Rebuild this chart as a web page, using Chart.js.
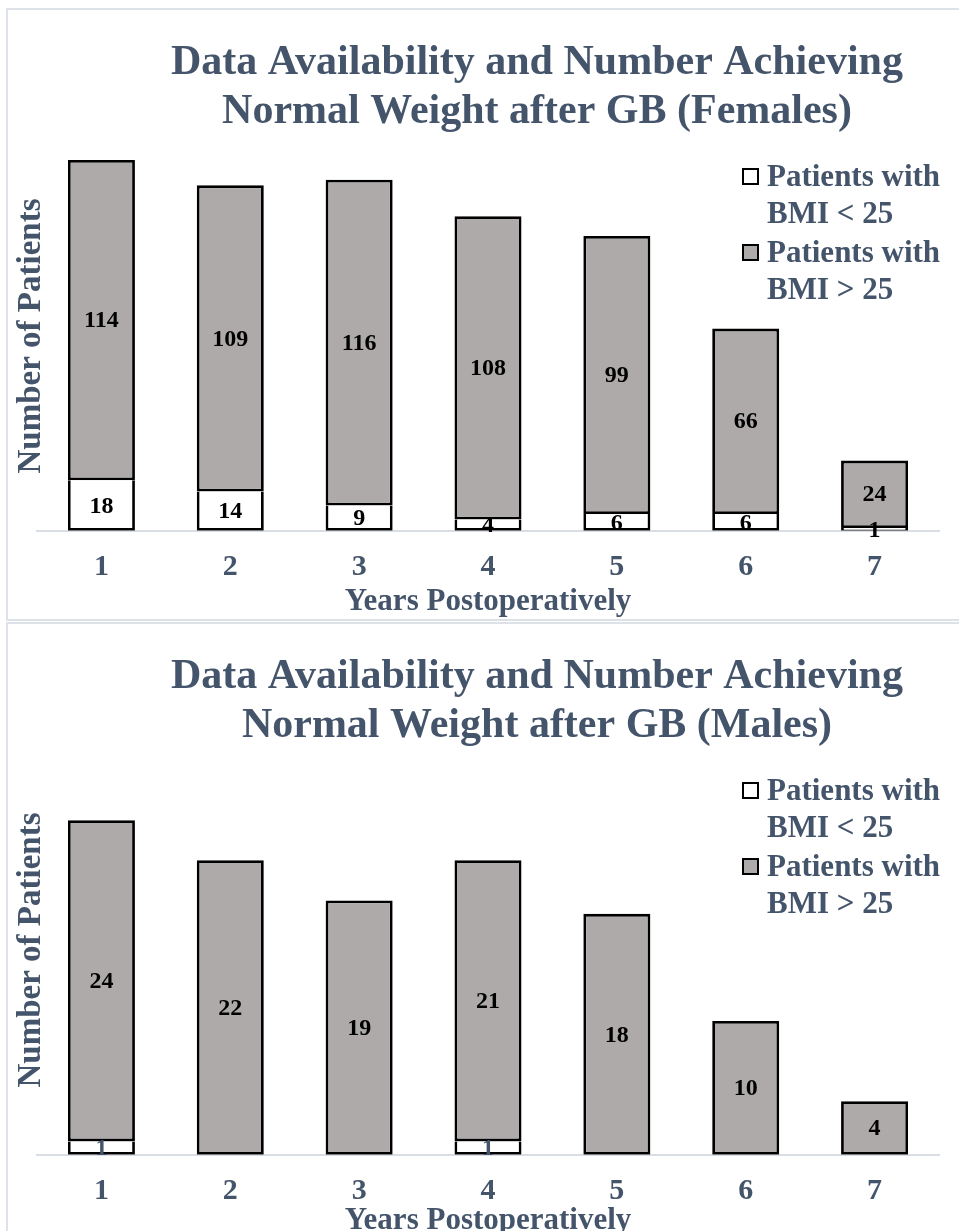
<!DOCTYPE html>
<html>
<head>
<meta charset="utf-8">
<script src="https://cdn.jsdelivr.net/npm/chart.js@4.4.1/dist/chart.umd.min.js"></script>
<style>
  html, body { margin: 0; padding: 0; background: #fff; overflow: hidden; width: 959px; height: 1231px; }
  .panel { position: absolute; border: 2px solid #dde2e9; box-sizing: border-box; }
  canvas { position: absolute; left: 0; }
</style>
</head>
<body>
<div class="panel" style="left:6px; top:8px; width:980px; height:613px"></div>
<div class="panel" style="left:6px; top:622px; width:980px; height:700px"></div>
<canvas id="female" width="959" height="625" style="top:0"></canvas>
<canvas id="male" width="959" height="630" style="top:614px"></canvas>
<script>
// Years after gastric bypass
const years = ['1', '2', '3', '4', '5', '6', '7'];

// Female cohort
const femaleBelow25 = [18, 14, 9, 4, 6, 6, 1];
const femaleAbove25 = [114, 109, 116, 108, 99, 66, 24];

// Male cohort
const maleBelow25 = [1, 0, 0, 1, 0, 0, 0];
const maleAbove25 = [24, 22, 19, 21, 18, 10, 4];

const seriesNames = ['Patients with BMI < 25', 'Patients with BMI > 25'];
const legendLines = [['Patients with', 'BMI < 25'], ['Patients with', 'BMI > 25']];
const femaleTitle = ['Data Availability and Number Achieving', 'Normal Weight after GB (Females)'];
const maleTitle = ['Data Availability and Number Achieving', 'Normal Weight after GB (Males)'];
const xAxisTitle = 'Years Postoperatively';
const yAxisTitle = 'Number of Patients';

const SERIF = "'Liberation Serif', 'Times New Roman', serif";
const SLATE = '#44546a';
const GREY = '#aeaaaa';

// Title, vertical axis title, legend and segment value labels
const decor = {
  id: 'decor',
  afterDatasetsDraw(chart, args, o) {
    const ctx = chart.ctx;
    ctx.save();
    ctx.font = 'bold 24px ' + SERIF;
    ctx.textAlign = 'center';
    ctx.textBaseline = 'middle';
    chart.data.datasets.forEach((ds, i) => {
      const meta = chart.getDatasetMeta(i);
      ctx.fillStyle = o.labelColors[i];
      meta.data.forEach((el, j) => {
        const v = ds.data[j];
        if (!v) return;
        ctx.fillText(String(v), el.x, (el.y + el.base) / 2 + 1);
      });
    });
    ctx.restore();
  },
  afterDraw(chart, args, o) {
    const ctx = chart.ctx;
    ctx.save();
    ctx.fillStyle = SLATE;
    // chart title
    ctx.font = 'bold 42px ' + SERIF;
    ctx.textAlign = 'center';
    ctx.textBaseline = 'alphabetic';
    o.title.forEach((line, k) => ctx.fillText(line, 537, 74 + k * 49));
    // vertical axis title
    ctx.save();
    ctx.translate(31, 336);
    ctx.rotate(-Math.PI / 2);
    ctx.font = 'bold 33px ' + SERIF;
    ctx.textBaseline = 'middle';
    ctx.fillText(yAxisTitle, 0, 0);
    ctx.restore();
    // legend
    ctx.textAlign = 'left';
    ctx.font = 'bold 31px ' + SERIF;
    chart.data.datasets.forEach((ds, i) => {
      const base = 186 + i * 76;
      ctx.fillStyle = ds.backgroundColor;
      ctx.fillRect(743, base - 17, 15, 15);
      ctx.strokeStyle = '#000';
      ctx.lineWidth = 2;
      ctx.strokeRect(743, base - 17, 15, 15);
      ctx.fillStyle = SLATE;
      legendLines[i].forEach((t, k) => ctx.fillText(t, 767, base + k * 37));
    });
    ctx.restore();
  }
};

function makeChart(id, below, above, title, max, top, titlePadTop, labelColors) {
  return new Chart(document.getElementById(id), {
    type: 'bar',
    data: {
      labels: years,
      datasets: [
        { label: seriesNames[0], data: below, backgroundColor: '#ffffff', borderColor: '#000',
          borderWidth: 2.8, borderSkipped: 'top' },
        { label: seriesNames[1], data: above, backgroundColor: GREY, borderColor: '#000',
          borderWidth: 2.8, borderSkipped: false }
      ]
    },
    options: {
      responsive: false,
      animation: false,
      devicePixelRatio: 1,
      layout: { padding: { left: 37, right: 20, top: top, bottom: 0 } },
      datasets: { bar: { categoryPercentage: 1, barPercentage: 0.52 } },
      plugins: {
        legend: { display: false },
        title: { display: false },
        tooltip: { enabled: false },
        decor: { title: title, labelColors: labelColors }
      },
      scales: {
        x: {
          stacked: true,
          grid: { display: false, drawTicks: false },
          border: { display: true, color: '#d9dde4', width: 2 },
          ticks: { color: SLATE, font: { family: SERIF, size: 30, weight: 'bold' }, padding: 18 },
          title: { display: true, text: xAxisTitle, color: SLATE,
                   font: { family: SERIF, size: 31, weight: 'bold' },
                   padding: { top: titlePadTop, bottom: 4 } }
        },
        y: { stacked: true, display: false, min: 0, max: max }
      }
    },
    plugins: [decor]
  });
}

makeChart('female', femaleBelow25, femaleAbove25, femaleTitle, 140, 137.6, -19, ['#000', '#000']);
makeChart('male', maleBelow25, maleAbove25, maleTitle, 28, 166, -24, [SLATE, '#000']);
</script>
</body>
</html>
